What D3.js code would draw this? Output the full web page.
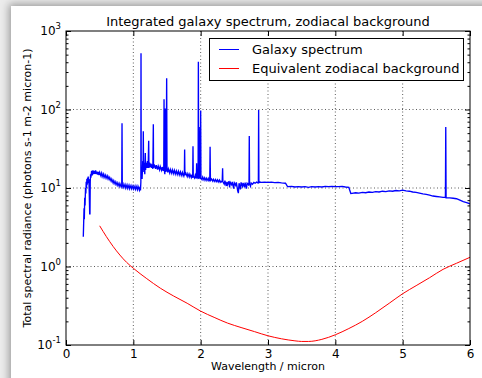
<!DOCTYPE html>
<html>
<head>
<meta charset="utf-8">
<script src="https://cdn.jsdelivr.net/npm/d3@7/dist/d3.min.js"></script>
<style>
  html, body { margin: 0; padding: 0; background: #ececec; overflow: hidden; }
  #frame {
    position: absolute; left: 11px; top: 6px; width: 500px; height: 400px;
    background: #fff; box-shadow: -2px -2px 8px rgba(0,0,0,0.35);
  }
  svg { position: absolute; left: 0; top: 0; }
  text { font-family: "DejaVu Sans", sans-serif; fill: #000; }
</style>
</head>
<body>
<div id="frame"></div>
<svg id="chart" width="482" height="378"></svg>
<script>
// Integrated galaxy spectrum: [wavelength (micron), radiance]
const galaxySpectrum = [
  [0.257,2.4],[0.262,3.5],[0.268,5.5],[0.272,4.0],[0.278,7.5],[0.283,6.0],[0.290,10],[0.295,8.5],
  [0.300,12],[0.305,10],[0.310,13],[0.315,11],[0.320,13.5],[0.325,12],[0.330,14],[0.335,11.5],
  [0.340,13],[0.345,9],[0.352,4.7],[0.356,4.7],[0.360,12],[0.365,15],[0.370,13.5],[0.380,16.5],
  [0.390,14.5],[0.400,16.8],[0.410,15],[0.420,16.5],[0.430,15.2],[0.440,16.8],[0.450,15],[0.460,16.2],
  [0.470,14.8],[0.480,16],[0.490,14.6],[0.500,15.8],[0.520,14.2],[0.530,15.5],[0.550,13.8],[0.560,15],
  [0.580,13.5],[0.590,14.6],[0.610,13.2],[0.620,14.2],[0.640,12.8],[0.650,13.6],[0.670,12.2],[0.680,13],
  [0.700,11.6],[0.710,12.4],[0.730,11.2],[0.740,12],[0.760,10.8],[0.770,11.6],[0.790,10.5],[0.800,11.4],
  [0.820,10.3],[0.828,11],[0.832,67],[0.836,10.8],[0.850,10.2],[0.860,11.2],[0.880,10],[0.890,11],
  [0.910,9.9],[0.920,10.9],[0.940,9.8],[0.950,10.8],[0.970,9.8],[0.980,10.7],[1.000,9.7],[1.010,10.6],
  [1.030,9.6],[1.040,10.6],[1.060,9.5],[1.070,10.5],[1.090,9.4],[1.100,10.4],[1.106,9.3],
  [1.112,12],[1.114,520],[1.117,14],[1.125,18],[1.130,13],[1.140,22],[1.145,16],[1.148,53],[1.152,17],
  [1.160,21],[1.170,15],[1.178,28],[1.182,17],[1.190,21],[1.200,18],[1.210,22],[1.220,18],[1.228,40],
  [1.232,18],[1.240,21],[1.250,18.5],[1.260,20.5],[1.270,18],[1.280,20],[1.290,17.5],[1.297,65],
  [1.300,18],[1.310,20],[1.330,17.5],[1.340,19.5],[1.360,17.2],[1.370,19],[1.390,17],[1.400,18.8],
  [1.420,16.8],[1.430,18.5],[1.445,16.5],[1.452,18],[1.456,135],[1.460,17],[1.468,15],[1.475,103],
  [1.480,16],[1.488,17.5],[1.495,250],[1.500,17],[1.510,15.8],[1.520,17.5],[1.540,15.6],[1.550,17.2],
  [1.570,15.4],[1.580,17],[1.600,15.2],[1.610,16.8],[1.630,15],[1.640,16.5],[1.660,14.8],[1.670,16.3],
  [1.690,14.6],[1.700,16],[1.720,14.4],[1.730,15.8],[1.750,14.2],[1.758,15.5],[1.762,31],[1.766,14.5],
  [1.780,15.4],[1.800,14],[1.810,15.2],[1.830,13.8],[1.840,15],[1.860,13.6],[1.870,14.8],[1.882,13.5],
  [1.886,34],[1.890,14.2],[1.910,13.4],[1.920,14.6],[1.936,13.2],[1.940,20.6],[1.945,13.5],[1.955,14.2],
  [1.962,13],[1.966,406],[1.970,13.5],[1.978,60],[1.982,13.2],[1.990,14],[1.996,13],[2.000,97],
  [2.004,13.4],[2.020,12.8],[2.030,13.8],[2.050,12.6],[2.060,13.5],[2.080,12.5],[2.090,13.3],[2.110,12.4],
  [2.120,13.2],[2.135,12.3],[2.140,33.6],[2.145,12.5],[2.160,13],[2.180,12.2],[2.190,12.9],[2.210,12.1],
  [2.220,12.8],[2.240,12],[2.250,12.7],[2.270,11.9],[2.280,12.6],[2.300,11.8],[2.320,12.4],[2.326,17.8],
  [2.330,12],[2.350,11.2],[2.360,12.4],[2.380,10.6],[2.390,12],[2.400,11],[2.420,12.2],[2.430,10.2],
  [2.440,11.8],[2.460,11],[2.470,12],[2.490,9.8],[2.500,11.6],[2.520,10.8],[2.530,11.8],[2.550,9.2],
  [2.560,8.6],[2.570,11.5],[2.590,9.6],[2.600,11.8],[2.620,10.5],[2.630,11.6],[2.650,10.2],[2.660,11.7],
  [2.680,9.8],[2.690,11.5],[2.710,11],[2.718,11.8],[2.722,46],[2.726,11.2],[2.740,10.5],[2.750,11.6],
  [2.770,11.2],[2.790,11.8],[2.810,11.5],[2.830,11.9],[2.850,11.6],[2.857,11.8],[2.861,98.6],[2.865,11.7],
  [2.880,11.9],[2.900,11.8],[2.950,11.9],[3.000,11.8],[3.050,11.9],[3.100,11.7],[3.150,11.8],[3.200,11.6],
  [3.260,11.5],[3.290,10.4],[3.350,10.5],[3.400,10.3],[3.450,10.4],[3.500,10.3],[3.550,10.4],[3.600,10.2],
  [3.650,10.4],[3.700,10.3],[3.750,10.4],[3.800,10.3],[3.850,10.5],[3.900,10.4],[3.950,10.5],[4.000,10.4],
  [4.050,10.4],[4.100,10.5],[4.150,10.3],[4.200,10.2],[4.230,8.5],[4.300,8.7],[4.350,8.6],[4.400,8.8],
  [4.450,8.7],[4.500,8.9],[4.550,8.8],[4.600,9.0],[4.650,8.9],[4.700,9.1],[4.750,9.0],[4.800,9.2],
  [4.850,9.1],[4.900,9.3],[4.950,9.2],[5.000,9.4],[5.050,9.2],[5.100,9.1],[5.150,8.9],[5.200,8.8],
  [5.250,8.6],[5.300,8.4],[5.350,8.3],[5.400,8.1],[5.450,7.9],[5.500,7.8],[5.550,7.7],[5.600,7.6],
  [5.635,7.6],[5.640,60],[5.645,7.5],[5.700,7.5],[5.750,7.4],[5.800,7.3],[5.850,7.0],[5.900,6.7],
  [5.950,6.5],[6.000,6.3]
];

// Equivalent zodiacal background: [wavelength (micron), radiance]
const zodiacalBackground = [
  [0.5,3.3],[0.6,2.4],[0.7,1.8],[0.8,1.4],[0.9,1.13],[1.0,0.95],[1.2,0.70],[1.4,0.53],[1.6,0.42],
  [1.8,0.34],[2.0,0.27],[2.2,0.225],[2.4,0.19],[2.6,0.167],[2.8,0.148],[3.0,0.131],[3.2,0.12],
  [3.4,0.113],[3.5,0.111],[3.6,0.111],[3.8,0.118],[4.0,0.135],[4.2,0.162],[4.4,0.2],[4.6,0.258],
  [4.8,0.34],[5.0,0.45],[5.2,0.57],[5.4,0.72],[5.6,0.92],[5.8,1.1],[6.0,1.31]
];

const seriesNames = ["Galaxy spectrum", "Equivalent zodiacal background"];
const seriesColors = ["#0000ff", "#ff0000"];
const xTicks = [0, 1, 2, 3, 4, 5, 6];
const yTickExponents = [-1, 0, 1, 2, 3];

const titleText = "Integrated galaxy spectrum, zodiacal background";
const xLabel = "Wavelength / micron";
const yLabel = "Total spectral radiance (photons s-1 m-2 micron-1)";

const plot = { left: 66, top: 31, right: 470, bottom: 345 };

const svg = d3.select("#chart");
const x = d3.scaleLinear().domain([0, 6]).range([plot.left, plot.right]);
const y = d3.scaleLog().domain([0.1, 1000]).range([plot.bottom, plot.top]);

// clip for the data lines
svg.append("defs").append("clipPath").attr("id", "plotClip")
  .append("rect").attr("x", plot.left).attr("y", plot.top)
  .attr("width", plot.right - plot.left).attr("height", plot.bottom - plot.top);

// dotted grid at major ticks
const grid = svg.append("g").attr("stroke", "#000").attr("stroke-width", 0.8)
  .attr("stroke-dasharray", "1,2.5").attr("opacity", 0.8);
xTicks.slice(1, -1).forEach(t => {
  grid.append("line").attr("x1", x(t)).attr("x2", x(t)).attr("y1", plot.top).attr("y2", plot.bottom);
});
yTickExponents.slice(1, -1).forEach(e => {
  grid.append("line").attr("y1", y(Math.pow(10, e))).attr("y2", y(Math.pow(10, e)))
    .attr("x1", plot.left).attr("x2", plot.right);
});

// series
const line = d3.line().x(d => x(d[0])).y(d => y(d[1]));
const lines = svg.append("g").attr("clip-path", "url(#plotClip)").attr("fill", "none");
lines.append("path").datum(galaxySpectrum).attr("d", line)
  .attr("stroke", seriesColors[0]).attr("stroke-width", 1.35).attr("stroke-linejoin", "miter");
lines.append("path").datum(zodiacalBackground)
  .attr("d", line.curve(d3.curveMonotoneX))
  .attr("stroke", seriesColors[1]).attr("stroke-width", 1);

// axes: ticks pointing inward on all four sides
const majorLen = 5, minorLen = 2.5;
const axisG = svg.append("g");
const bottomAxis = d3.axisBottom(x).tickValues(xTicks).tickSize(-majorLen).tickPadding(4).tickFormat(d3.format("d"));
const topAxis = d3.axisTop(x).tickValues(xTicks).tickSize(-majorLen).tickFormat("");
const yTickVals = yTickExponents.map(e => Math.pow(10, e));
const minorVals = [];
yTickExponents.slice(0, -1).forEach(e => {
  for (let k = 2; k <= 9; k++) minorVals.push(k * Math.pow(10, e));
});
const leftAxis = d3.axisLeft(y).tickValues(yTickVals).tickSize(-majorLen).tickFormat("");
const rightAxis = d3.axisRight(y).tickValues(yTickVals).tickSize(-majorLen).tickFormat("");
const leftMinor = d3.axisLeft(y).tickValues(minorVals).tickSize(-minorLen).tickFormat("");
const rightMinor = d3.axisRight(y).tickValues(minorVals).tickSize(-minorLen).tickFormat("");

function styleAxis(g) {
  g.select(".domain").remove();
  g.selectAll(".tick line").attr("stroke", "#000").attr("stroke-width", 1);
  g.selectAll(".tick text").style("font-family", "DejaVu Sans").style("font-size", "12px").attr("fill", "#000");
}
axisG.append("g").attr("transform", `translate(0,${plot.bottom})`).call(bottomAxis).call(styleAxis);
axisG.append("g").attr("transform", `translate(0,${plot.top})`).call(topAxis).call(styleAxis);
axisG.append("g").attr("transform", `translate(${plot.left},0)`).call(leftAxis).call(styleAxis);
axisG.append("g").attr("transform", `translate(${plot.right},0)`).call(rightAxis).call(styleAxis);
axisG.append("g").attr("transform", `translate(${plot.left},0)`).call(leftMinor).call(styleAxis);
axisG.append("g").attr("transform", `translate(${plot.right},0)`).call(rightMinor).call(styleAxis);

// log tick labels as 10 with superscript exponent
const yLabels = svg.append("g").attr("text-anchor", "end");
yTickExponents.forEach(e => {
  const t = yLabels.append("text").attr("x", plot.left - 5).attr("y", y(Math.pow(10, e)) + 4)
    .style("font-size", "12px");
  t.append("tspan").text("10");
  t.append("tspan").attr("dy", -6).style("font-size", "8.5px").text(String(e));
});

// frame
svg.append("rect").attr("x", plot.left).attr("y", plot.top)
  .attr("width", plot.right - plot.left).attr("height", plot.bottom - plot.top)
  .attr("fill", "none").attr("stroke", "#000").attr("stroke-width", 1);

// title and axis labels
svg.append("text").attr("x", (plot.left + plot.right) / 2).attr("y", 26)
  .attr("text-anchor", "middle").style("font-size", "13px").text(titleText);
svg.append("text").attr("x", (plot.left + plot.right) / 2).attr("y", 370)
  .attr("text-anchor", "middle").style("font-size", "11px").text(xLabel);
svg.append("text").attr("transform", `translate(31,${(plot.top + plot.bottom) / 2}) rotate(-90)`)
  .attr("text-anchor", "middle").style("font-size", "11px").text(yLabel);

// legend
const legend = svg.append("g");
legend.append("rect").attr("x", 209.5).attr("y", 38.5).attr("width", 254).attr("height", 42)
  .attr("fill", "#fff").attr("stroke", "#000").attr("stroke-width", 1);
seriesNames.forEach((name, i) => {
  const ly = 49.5 + i * 19;
  legend.append("line").attr("x1", 219).attr("x2", 239).attr("y1", ly).attr("y2", ly)
    .attr("stroke", seriesColors[i]).attr("stroke-width", 1);
  legend.append("text").attr("x", 252).attr("y", ly + 4.5).style("font-size", "13px").text(name);
});
</script>
</body>
</html>
